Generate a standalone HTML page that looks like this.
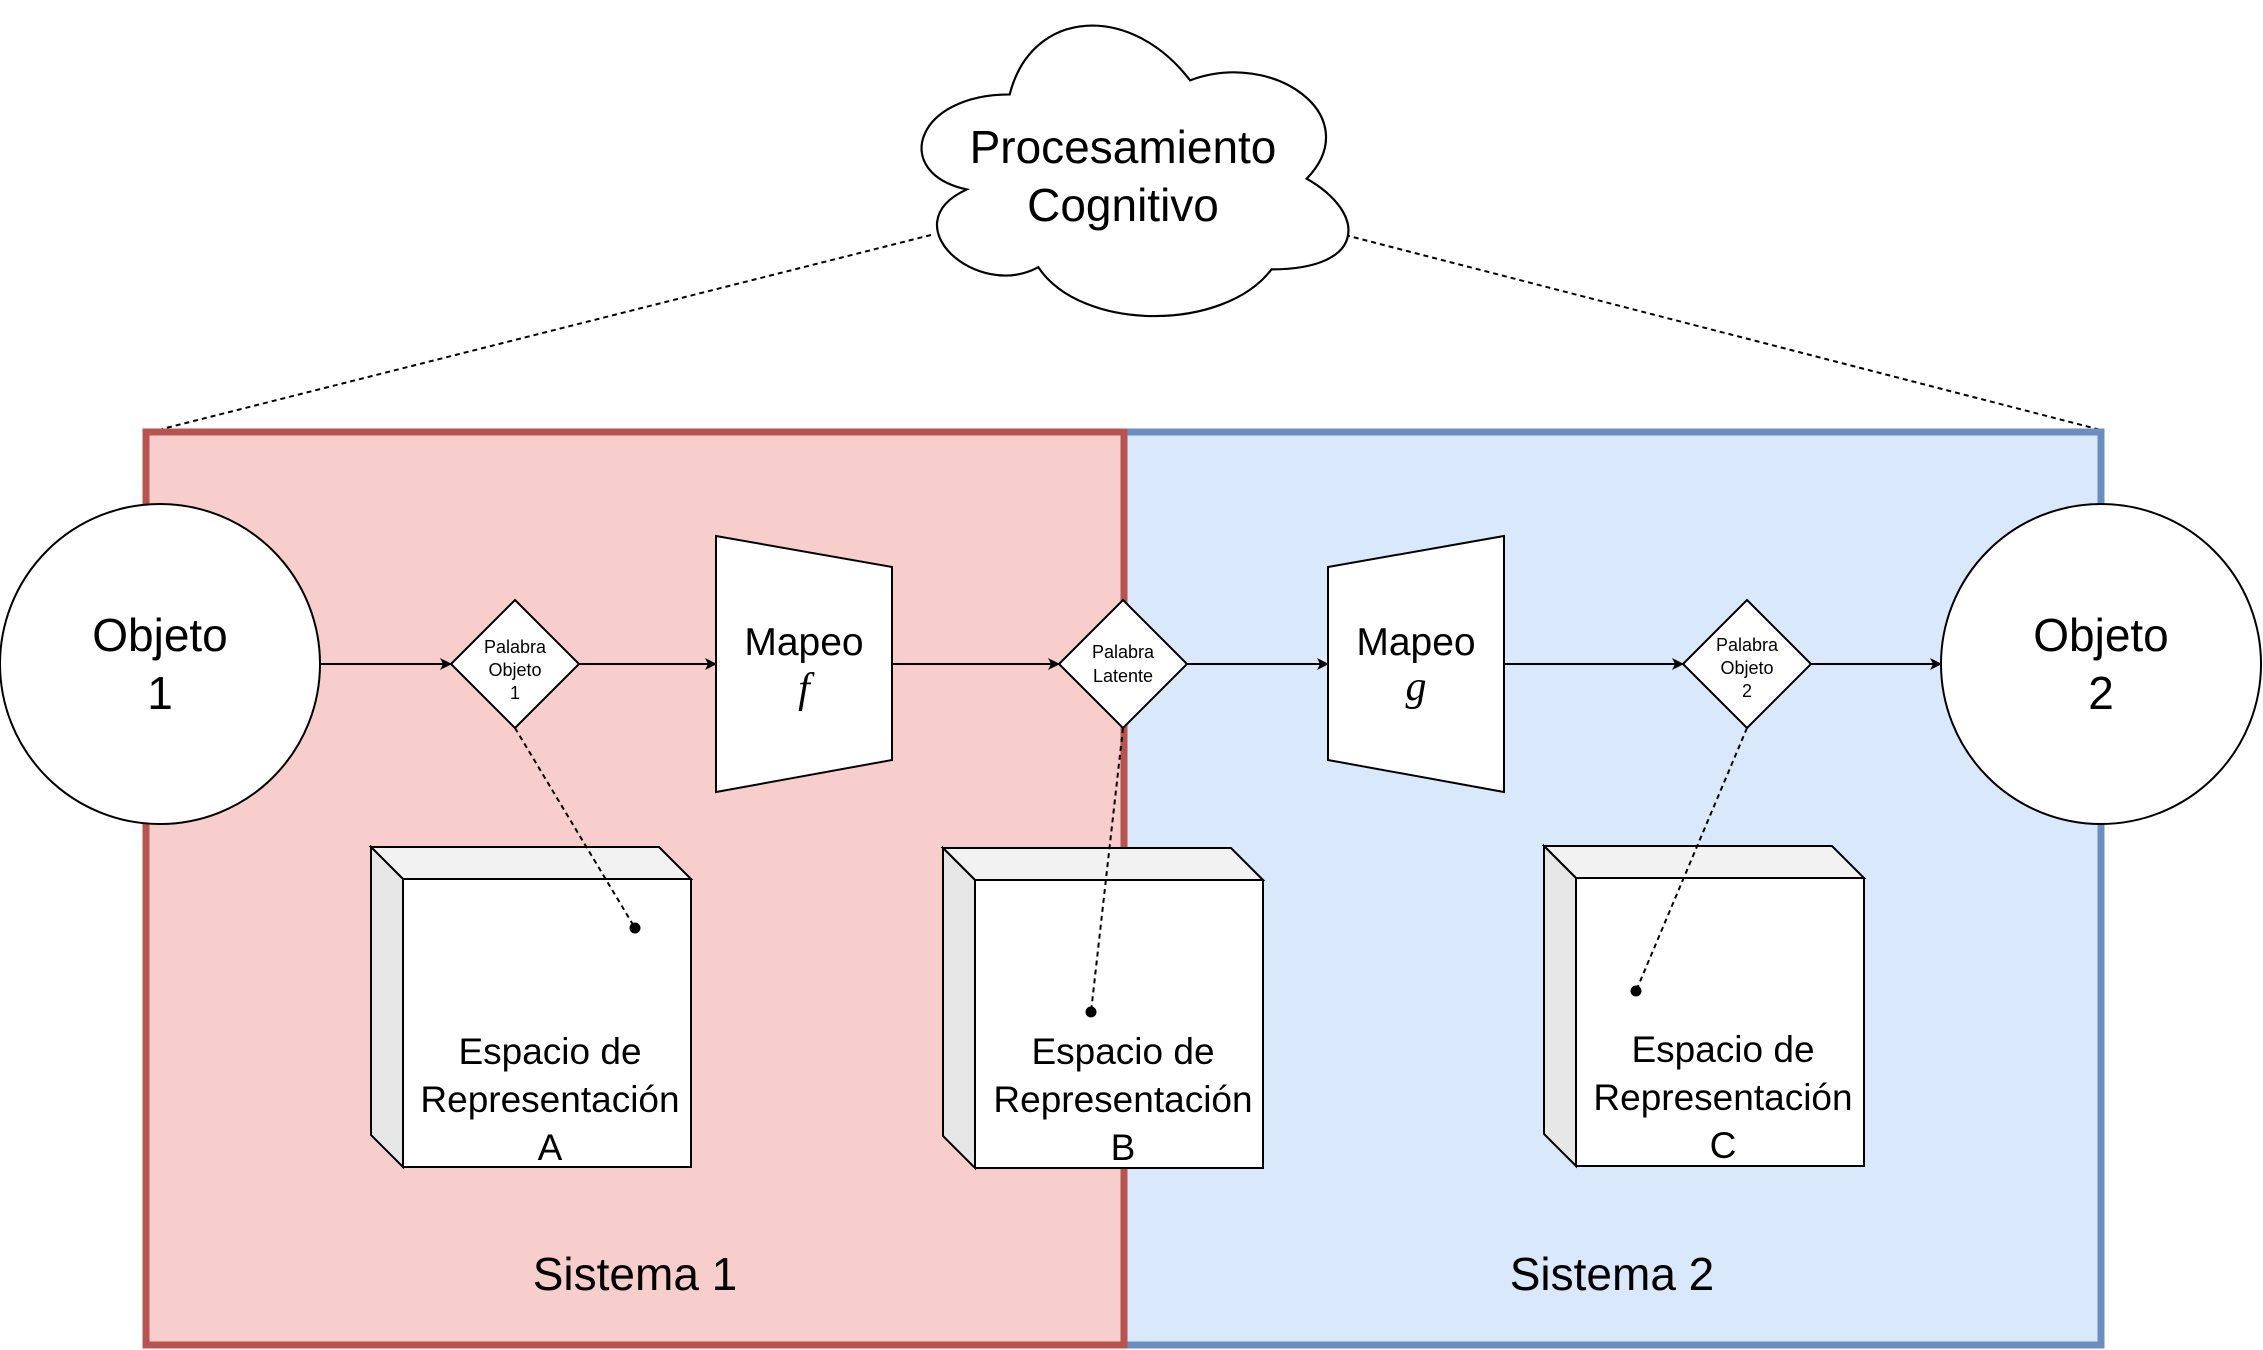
<!DOCTYPE html>
<html><head><meta charset="utf-8"><style>html,body{margin:0;padding:0;background:#fff}svg{display:block}text{font-family:"Liberation Sans",sans-serif;fill:#000}</style></head>
<body>
<svg width="2263" height="1350" viewBox="0 0 2263 1350" xmlns="http://www.w3.org/2000/svg">
<defs><marker id="ar" markerWidth="12" markerHeight="12" refX="11" refY="6" orient="auto" markerUnits="userSpaceOnUse"><path d="M0,0 L12,6 L0,12 L3,6 Z" fill="#000"/></marker></defs>
<line x1="931" y1="235" x2="162" y2="429" stroke="#000" stroke-width="2" stroke-dasharray="5,4"/>
<line x1="1345" y1="235" x2="2101" y2="430" stroke="#000" stroke-width="2" stroke-dasharray="5,4"/>
<rect x="1124" y="432" width="977" height="913" fill="#dae8fc" stroke="#6c8ebf" stroke-width="7"/>
<rect x="146" y="432" width="978" height="913" fill="#f8cecc" stroke="#b85450" stroke-width="7"/>
<path transform="translate(1123,170) scale(1.1,1.08) translate(-1123,-170)" d="M1020,100 C933,100 912,173 981,188 C912,220 990,291 1046,260 C1085,320 1215,320 1258,262 C1345,262 1345,210 1290,178 C1345,120 1260,58 1184,87 C1130,15 1040,20 1020,100 Z" fill="#fff" stroke="#000" stroke-width="2"/>
<text x="1123" y="163" font-size="46" text-anchor="middle">Procesamiento</text>
<text x="1123" y="221" font-size="46" text-anchor="middle">Cognitivo</text>
<g stroke="#000" stroke-width="2" fill="none" marker-end="url(#ar)">
<line x1="320" y1="664" x2="451" y2="664"/>
<line x1="579" y1="664" x2="716" y2="664"/>
<line x1="892" y1="664" x2="1059" y2="664"/>
<line x1="1187" y1="664" x2="1328" y2="664"/>
<line x1="1504" y1="664" x2="1683" y2="664"/>
<line x1="1811" y1="664" x2="1941" y2="664"/>
</g>
<circle cx="160" cy="664" r="160" fill="#fff" stroke="#000" stroke-width="2"/>
<text x="160" y="651" font-size="46" text-anchor="middle">Objeto</text>
<text x="160" y="709" font-size="46" text-anchor="middle">1</text>
<circle cx="2101" cy="664" r="160" fill="#fff" stroke="#000" stroke-width="2"/>
<text x="2101" y="651" font-size="46" text-anchor="middle">Objeto</text>
<text x="2101" y="709" font-size="46" text-anchor="middle">2</text>
<polygon points="716,536 892,567 892,760 716,792" fill="#fff" stroke="#000" stroke-width="2"/>
<text x="804" y="655" font-size="39" text-anchor="middle">Mapeo</text>
<text x="804" y="702" font-size="42" text-anchor="middle" font-style="italic" style="font-family:'Liberation Serif',serif">f</text>
<polygon points="1328,567 1504,536 1504,792 1328,760" fill="#fff" stroke="#000" stroke-width="2"/>
<text x="1416" y="655" font-size="39" text-anchor="middle">Mapeo</text>
<text x="1416" y="700" font-size="42" text-anchor="middle" font-style="italic" style="font-family:'Liberation Serif',serif">g</text>
<g stroke="#000" stroke-width="2">
<polygon points="371,847 659,847 691,879 403,879" fill="#f2f2f2"/><polygon points="371,847 403,879 403,1167 371,1135" fill="#e6e6e6"/><rect x="403" y="879" width="288" height="288" fill="#fff"/>
<polygon points="943,848 1231,848 1263,880 975,880" fill="#f2f2f2"/><polygon points="943,848 975,880 975,1168 943,1136" fill="#e6e6e6"/><rect x="975" y="880" width="288" height="288" fill="#fff"/>
<polygon points="1544,846 1832,846 1864,878 1576,878" fill="#f2f2f2"/><polygon points="1544,846 1576,878 1576,1166 1544,1134" fill="#e6e6e6"/><rect x="1576" y="878" width="288" height="288" fill="#fff"/>
</g>
<g font-size="37" text-anchor="middle">
<text x="550" y="1064">Espacio de</text><text x="550" y="1112">Representación</text><text x="550" y="1160">A</text>
<text x="1123" y="1064">Espacio de</text><text x="1123" y="1112">Representación</text><text x="1123" y="1160">B</text>
<text x="1723" y="1062">Espacio de</text><text x="1723" y="1110">Representación</text><text x="1723" y="1158">C</text>
</g>
<g fill="#fff" stroke="#000" stroke-width="2">
<polygon points="515,600 579,664 515,728 451,664"/>
<polygon points="1123,600 1187,664 1123,728 1059,664"/>
<polygon points="1747,600 1811,664 1747,728 1683,664"/>
</g>
<g font-size="18" text-anchor="middle">
<text x="515" y="653">Palabra</text><text x="515" y="676">Objeto</text><text x="515" y="699">1</text>
<text x="1123" y="658">Palabra</text><text x="1123" y="682">Latente</text>
<text x="1747" y="651">Palabra</text><text x="1747" y="674">Objeto</text><text x="1747" y="697">2</text>
</g>
<g stroke="#000" stroke-width="2" stroke-dasharray="5,4">
<line x1="515" y1="728" x2="635" y2="928"/>
<line x1="1123" y1="728" x2="1091" y2="1012"/>
<line x1="1747" y1="728" x2="1636" y2="991"/>
</g>
<circle cx="635" cy="928" r="5.5" fill="#000"/>
<circle cx="1091" cy="1012" r="5.5" fill="#000"/>
<circle cx="1636" cy="991" r="5.5" fill="#000"/>
<text x="635" y="1290" font-size="46" text-anchor="middle">Sistema 1</text>
<text x="1612" y="1290" font-size="46" text-anchor="middle">Sistema 2</text>
</svg>
</body></html>
